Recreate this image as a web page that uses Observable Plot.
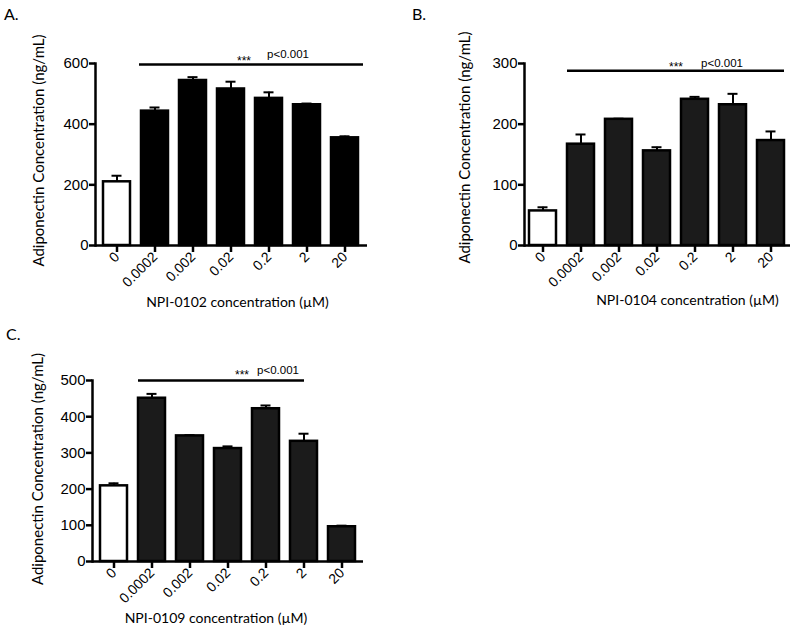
<!DOCTYPE html>
<html><head><meta charset="utf-8">
<script src="https://cdn.jsdelivr.net/npm/d3@7"></script>
<script src="https://cdn.jsdelivr.net/npm/@observablehq/plot@0.6"></script>
<style>
body{margin:0;background:#fff}
#root{position:relative;width:800px;height:630px;overflow:hidden;background:#fff}
.panel{position:absolute}
.lab{position:absolute;font-family:Lato,"Open Sans",sans-serif;font-size:16px;line-height:1;color:#000}
</style></head><body>
<div id="root">
  <div class="lab" style="left:4px;top:6px">A.</div>
  <div class="lab" style="left:412px;top:6px">B.</div>
  <div class="lab" style="left:6px;top:326px">C.</div>
  <div class="panel" id="pA" style="left:0;top:0"></div>
  <div class="panel" id="pB" style="left:400px;top:0"></div>
  <div class="panel" id="pC" style="left:0;top:310px"></div>
</div>
<script>
// ---- data ----
const concentrations = ["0", "0.0002", "0.002", "0.02", "0.2", "2", "20"];
const meanA = [210, 443, 544, 516, 485, 464, 355];
const semA  = [20, 12, 11, 24, 20, 4, 5];
const meanB = [57, 167, 208, 156, 241, 232, 173];
const semB  = [6, 16, 1, 6, 4, 18, 15];
const meanC = [209, 451, 347, 312, 422, 332, 96];
const semC  = [7, 12, 2, 6, 9, 21, 3];
const yTicksA = [0, 200, 400, 600];
const yTicksB = [0, 100, 200, 300];
const yTicksC = [0, 100, 200, 300, 400, 500];
const compounds = ["NPI-0102", "NPI-0104", "NPI-0109"];
const yTitle = "Adiponectin Concentration (ng/mL)";
const sigStars = "***";
const sigP = "p<0.001";
const sigLevelA = 597, sigLevelB = 288, sigLevelC = 500;
const sigFrom = "0.0002", sigToAB = "20", sigToC = "2";

function table(mean, sem) {
  return concentrations.map((c, i) => ({conc: c, mean: mean[i], top: mean[i] + sem[i]}));
}

function panel(el, o) {
  const data = table(o.mean, o.sem);
  const tickFont = "'Liberation Sans', Arial, sans-serif";
  const titleFont = "Lato, 'Open Sans', sans-serif";
  const sigRule = [{y: o.sigLevel, from: sigFrom, to: o.sigTo}];
  const chart = Plot.plot({
    width: o.width, height: o.height,
    marginLeft: o.ml, marginRight: o.mr, marginTop: o.mt, marginBottom: o.mb,
    style: {fontFamily: tickFont, background: "transparent", overflow: "visible", color: "#000"},
    x: {domain: concentrations, paddingInner: 0.28, paddingOuter: o.po},
    y: {domain: [0, o.yMax]},
    marks: [
      Plot.axisX({tickRotate: -45, tickSize: 7, tickPadding: 2, strokeWidth: 2.5, fontSize: 14, label: null}),
      Plot.axisY({ticks: o.yTicks, tickSize: 6, tickPadding: 1, strokeWidth: 2.5, fontSize: 15, label: null}),
      Plot.ruleX(data, {x: "conc", y1: "mean", y2: "top", strokeWidth: 2, stroke: "#000"}),
      Plot.tickY(data, {x: "conc", y: "top", inset: 8.5, strokeWidth: 2, stroke: "#000"}),
      Plot.barY(data, {x: "conc", y: "mean", fill: d => d.conc === "0" ? "#fff" : o.fill, stroke: "#000", strokeWidth: 2.5}),
      Plot.ruleY([0], {strokeWidth: 2.5, stroke: "#000"}),
      Plot.frame({anchor: "left", strokeWidth: 2.5, stroke: "#000"}),
      Plot.ruleY(sigRule, {y: "y", x1: "from", x2: "to", insetLeft: o.sigInsetLeft, insetRight: o.sigInsetRight,
        strokeWidth: 2.5, stroke: "#000"}),
      Plot.text([sigStars], {text: d => d, x: () => o.starsAt, y: () => o.sigLevel, dx: o.starsDx, dy: o.starsDy,
        lineAnchor: "bottom", fontSize: 12, fontFamily: tickFont, fill: "#000"}),
      Plot.text([sigP], {text: d => d, x: () => o.pAt, y: () => o.sigLevel, dx: o.pDx, dy: o.pDy,
        lineAnchor: "bottom", fontSize: 11.5, fontFamily: tickFont, fill: "#000"}),
      Plot.text([yTitle], {text: d => d, frameAnchor: "left", rotate: -90, textAnchor: "middle", lineAnchor: "middle",
        dx: o.ytDx, dy: o.ytDy, fontSize: 15, fontFamily: titleFont, fill: "#000"}),
      Plot.text([o.name + " concentration (\u00B5M)"], {text: d => d, frameAnchor: "bottom", textAnchor: "middle", lineAnchor: "middle",
        dx: o.xtDx, dy: o.xtDy, fontSize: 14, fontFamily: titleFont, fill: "#000"})
    ]
  });
  document.getElementById(el).appendChild(chart);
}

panel("pA", {mean: meanA, sem: semA, yMax: 600, yTicks: yTicksA, name: compounds[0], fill: "#000",
  width: 400, height: 310, ml: 95, mr: 33, mt: 63, mb: 65, po: 0.14,
  sigLevel: sigLevelA, sigTo: sigToAB, sigInsetLeft: -2, sigInsetRight: -5,
  starsAt: "0.02", starsDx: 13, starsDy: 1, pAt: "0.2", pDx: 19, pDy: -6,
  ytDx: -56, ytDy: -4, xtDx: 6, xtDy: 57});

panel("pB", {mean: meanB, sem: semB, yMax: 300, yTicks: yTicksB, name: compounds[1], fill: "#1b1b1b",
  width: 400, height: 310, ml: 124, mr: 10, mt: 63, mb: 65, po: 0.07,
  sigLevel: sigLevelB, sigTo: sigToAB, sigInsetLeft: 0, sigInsetRight: 0,
  starsAt: "0.02", starsDx: 19, starsDy: 0, pAt: "0.2", pDx: 27, pDy: -4,
  ytDx: -59, ytDy: -7, xtDx: 30, xtDy: 55});

panel("pC", {mean: meanC, sem: semC, yMax: 500, yTicks: yTicksC, name: compounds[2], fill: "#1b1b1b",
  width: 400, height: 320, ml: 92, mr: 37, mt: 70, mb: 69, po: 0.13,
  sigLevel: sigLevelC, sigTo: sigToC, sigInsetLeft: 0, sigInsetRight: 13,
  starsAt: "0.2", starsDx: -24, starsDy: -2, pAt: "0.2", pDx: 12, pDy: -7,
  ytDx: -54, ytDy: -2, xtDx: -12, xtDy: 57});
</script>
</body></html>
